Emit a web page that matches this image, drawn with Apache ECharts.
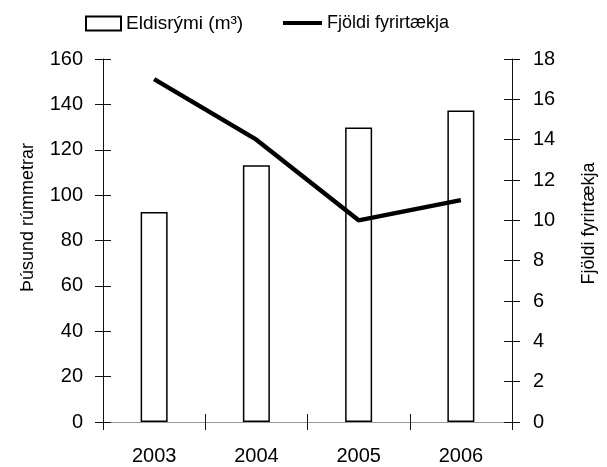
<!DOCTYPE html>
<html>
<head>
<meta charset="utf-8">
<script src="https://cdn.jsdelivr.net/npm/echarts@6/dist/echarts.min.js"></script>
<style>html,body{margin:0;padding:0;background:#fff}#c{width:607px;height:467px}</style>
</head>
<body>
<div id="c"></div>
<script>
var years = ['2003', '2004', '2005', '2006'];
var volume = [92.6, 113.2, 129.8, 137.3];
var companies = [17, 14, 10, 11];
var leftTicks = {min: 0, max: 160, interval: 20};
var rightTicks = {min: 0, max: 18, interval: 2};
var barName = 'Eldisrými (m³)';
var lineName = 'Fjöldi fyrirtækja';
var leftTitle = 'Þúsund rúmmetrar';
var rightTitle = 'Fjöldi fyrirtækja';

var FONT = 'Liberation Sans, Arial, sans-serif';
var FS = 18;
var TFS = 20;
var gridRect = {left: 103, right: 95, top: 59, bottom: 45};
var axisLine = {show: true, lineStyle: {color: '#111', width: 1}};
var noLine = {show: false};

var chart = echarts.init(document.getElementById('c'));
chart.setOption({
  animation: false,
  textStyle: {fontFamily: FONT, color: '#000'},
  legend: [
    {data: [barName], left: 85, top: 14, itemWidth: 35, itemHeight: 14, itemGap: 0, padding: 0,
     icon: 'rect', textStyle: {fontSize: 19, color: '#000', fontFamily: FONT}},
    {data: [{name: lineName, icon: 'rect'}], left: 283, top: 14, itemWidth: 39, itemHeight: 4, itemGap: 0, padding: 0,
     itemStyle: {color: '#000', borderWidth: 0},
     textStyle: {fontSize: FS, color: '#000', fontFamily: FONT}}
  ],
  grid: [
    Object.assign({}, gridRect),
    Object.assign({}, gridRect)
  ],
  xAxis: [
    {type: 'category', gridIndex: 0, data: years, position: 'bottom',
     axisLine: axisLine, axisTick: {show: true, length: 8, inside: false, lineStyle: {color: '#111'}},
     axisLabel: {fontSize: TFS, color: '#000', margin: 24, fontFamily: FONT}},
    {type: 'category', gridIndex: 1, data: years, position: 'bottom',
     axisLine: noLine, axisTick: {show: true, length: 8, inside: true, lineStyle: {color: '#111'}},
     axisLabel: {show: false}},
    {type: 'category', gridIndex: 1, data: years, position: 'top',
     axisLine: {show: true, lineStyle: {color: '#999', width: 1}}, axisTick: {show: false},
     axisLabel: {show: false}}
  ],
  yAxis: [
    {type: 'value', gridIndex: 0, position: 'left', min: leftTicks.min, max: leftTicks.max, interval: leftTicks.interval,
     axisLine: axisLine, axisTick: {show: true, length: 8, lineStyle: {color: '#111'}},
     splitLine: {show: false},
     axisLabel: {fontSize: TFS, color: '#000', margin: 20, fontFamily: FONT},
     name: leftTitle, nameLocation: 'middle', nameRotate: 90, nameGap: 66,
     nameTextStyle: {fontSize: FS, color: '#000', fontFamily: FONT, padding: [0, 0, 0, 46]}},
    {type: 'value', gridIndex: 0, position: 'right', min: rightTicks.min, max: rightTicks.max, interval: rightTicks.interval,
     axisLine: axisLine, axisTick: {show: true, length: 8, lineStyle: {color: '#111'}},
     splitLine: {show: false},
     axisLabel: {fontSize: TFS, color: '#000', margin: 21, fontFamily: FONT},
     name: rightTitle, nameLocation: 'middle', nameRotate: 90, nameGap: 68,
     nameTextStyle: {fontSize: FS, color: '#000', fontFamily: FONT, padding: [0, 0, 0, 34]}},
    {type: 'value', gridIndex: 1, position: 'left', min: leftTicks.min, max: leftTicks.max, interval: leftTicks.interval,
     axisLine: noLine, axisTick: {show: true, inside: true, length: 8, lineStyle: {color: '#111'}},
     splitLine: {show: false}, axisLabel: {show: false}},
    {type: 'value', gridIndex: 1, position: 'right', min: rightTicks.min, max: rightTicks.max, interval: rightTicks.interval,
     axisLine: noLine, axisTick: {show: true, inside: true, length: 8, lineStyle: {color: '#111'}},
     splitLine: {show: false}, axisLabel: {show: false}}
  ],
  series: [
    {name: barName, type: 'bar', xAxisIndex: 0, yAxisIndex: 0, data: volume, barWidth: 27,
     itemStyle: {color: '#fff', borderColor: '#000', borderWidth: 1.5}},
    {name: lineName, type: 'line', xAxisIndex: 0, yAxisIndex: 1, data: companies,
     symbol: 'none', showSymbol: false, lineStyle: {color: '#000', width: 4.5}, itemStyle: {color: '#000'}}
  ]
});
</script>
</body>
</html>
